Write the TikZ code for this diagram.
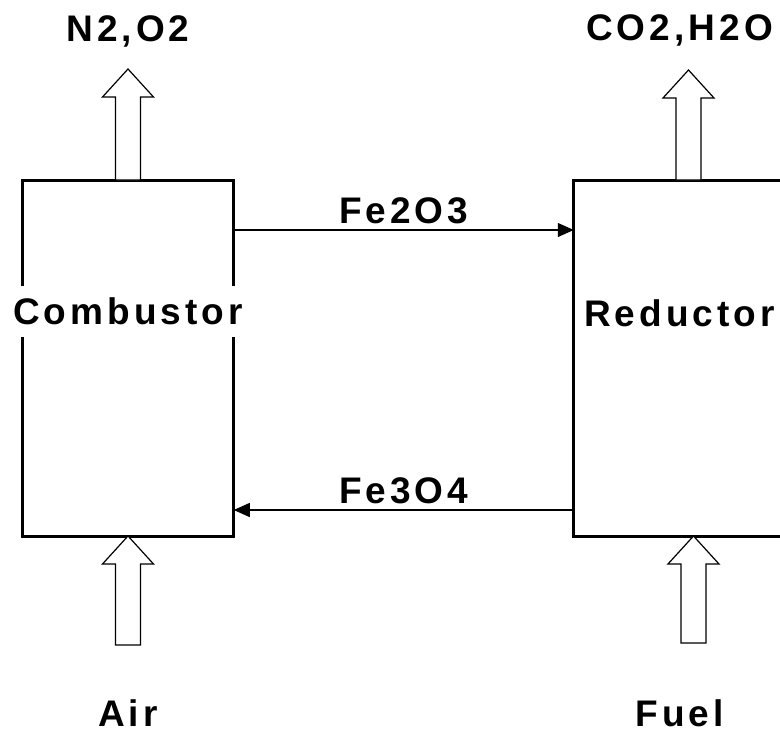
\documentclass[tikz,border=0pt]{standalone}
\usepackage{fontspec}
\setmainfont{Liberation Sans}[LetterSpace=11]
\usetikzlibrary{arrows.meta, positioning}

\begin{document}
\begin{tikzpicture}[
        x=1pt, y=1pt,
        reactor/.style={rectangle, draw=black, line width=3pt, minimum width=211.5pt, minimum height=356pt, inner sep=0pt, outer sep=0pt},
        lbl/.style={font=\bfseries\fontsize{37}{40}\selectfont, inner sep=2pt},
        namelbl/.style={lbl, fill=white, inner ysep=12pt},
        arrow/.style={-{Triangle[length=16pt, width=14pt]}, line width=1.3pt},
        fatup/.pic={\draw[line width=1.2pt, fill=white] (0,0) -- (-25.5,-28) -- (-12.5,-28) -- (-12.5,-#1) -- (12.5,-#1) -- (12.5,-28) -- (25.5,-28) -- cycle;}
    ]
    \useasboundingbox (0,0) rectangle (780,-731);

    % Reactors
    \node[reactor] (comb) at (128,-358) {};
    \node[reactor, right=340pt of comb] (red) {};
    \node[namelbl] (combname) at ([yshift=46.5pt]comb.center) {Combustor};
    \node[namelbl, inner xsep=1pt] (redname) at ([yshift=44.5pt]red.center) {Reductor};

    % Oxygen carrier loop
    \draw[arrow] ([yshift=-50pt]comb.north east) -- node[lbl, above=3pt] (fe2o3) {Fe2O3} ([yshift=-50pt]red.north west);
    \draw[arrow] ([yshift=26pt]red.south west) -- node[lbl, above=3pt] (fe3o4) {Fe3O4} ([yshift=26pt]comb.south east);

    % Gas streams
    \pic at ([yshift=111pt]comb.north) {fatup=111};
    \pic at ([xshift=9pt, yshift=110pt]red.north) {fatup=110};
    \pic at (comb.south) {fatup=109};
    \pic at ([xshift=14pt]red.south) {fatup=107};

    \node[lbl, anchor=base] (outcomb) at ([yshift=139pt]comb.north) {N2,O2};
    \node[lbl, anchor=base] (outred) at ([yshift=140pt]red.north) {CO2,H2O};
    \node[lbl, inner sep=0pt, anchor=base] (air) at ([yshift=-190pt]comb.south) {Air};
    \node[lbl, inner sep=0pt, anchor=base] (fuel) at ([yshift=-190pt]red.south) {Fuel};

\end{tikzpicture}
\end{document}
